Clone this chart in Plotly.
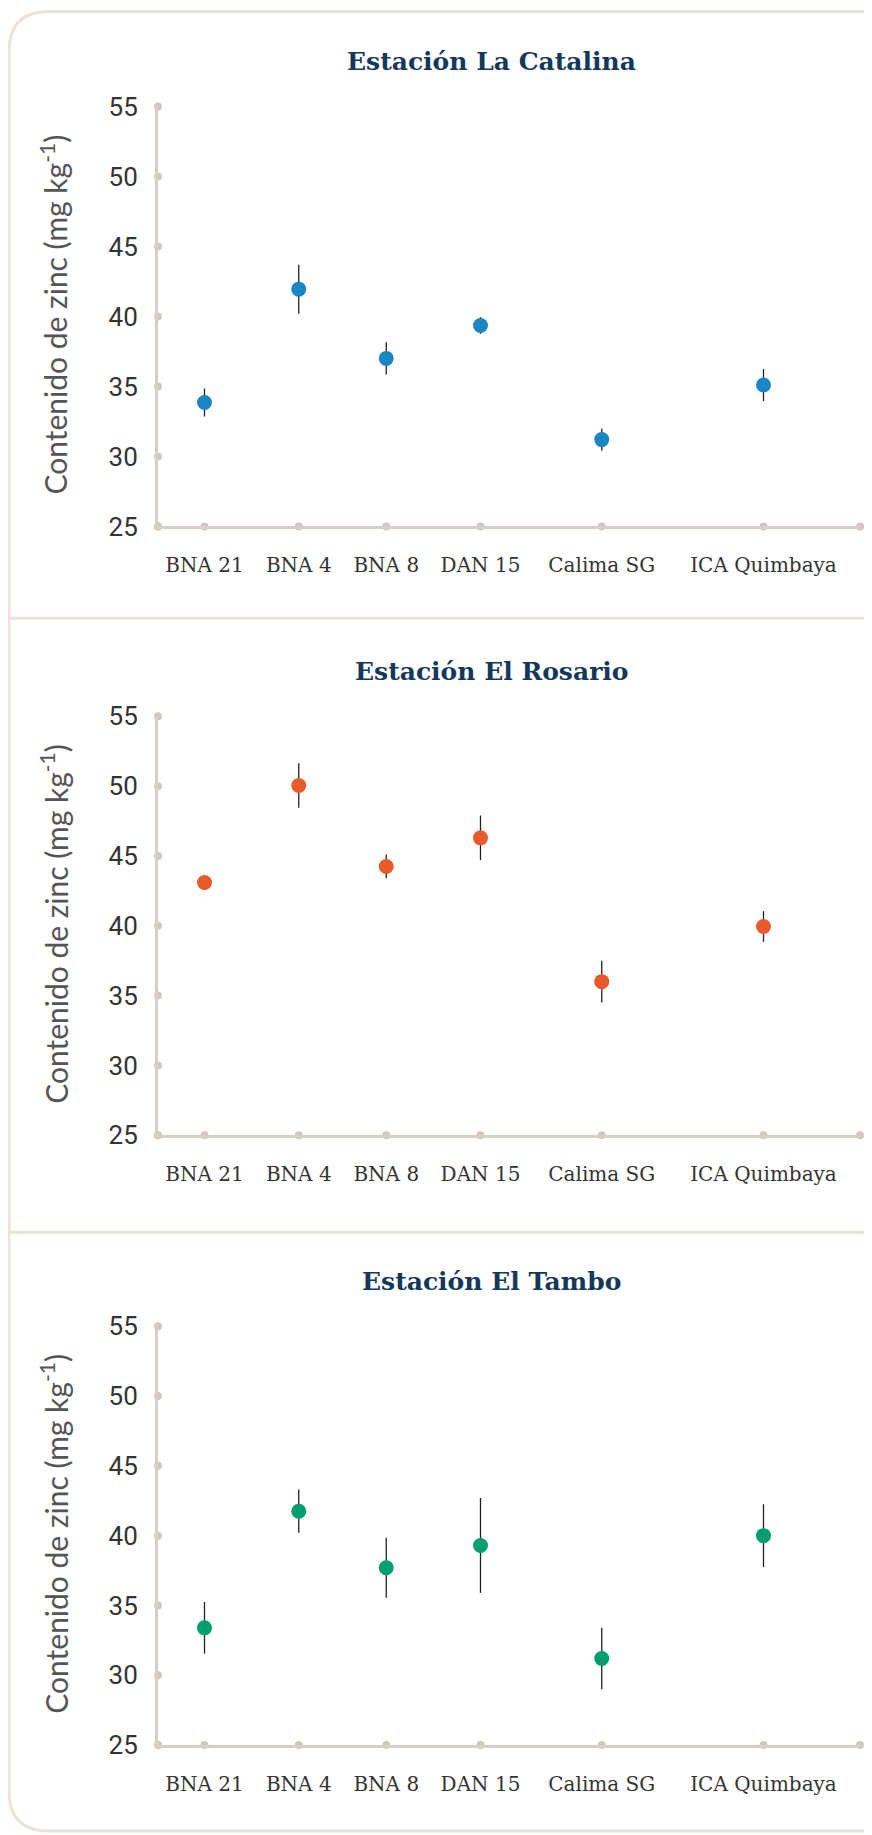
import plotly.graph_objects as go

# ---------------- data ----------------
categories = ["BNA 21", "BNA 4", "BNA 8", "DAN 15", "Calima SG", "ICA Quimbaya"]

station_titles = ["Estación La Catalina", "Estación El Rosario", "Estación El Tambo"]

catalina = [33.85, 41.95, 37.0, 39.35, 31.2, 35.1]
catalina_err = [1.0, 1.75, 1.15, 0.6, 0.8, 1.15]

rosario = [43.1, 50.05, 44.25, 46.3, 36.0, 39.95]
rosario_err = [0.3, 1.6, 0.85, 1.6, 1.5, 1.1]

tambo = [33.4, 41.75, 37.7, 39.3, 31.2, 40.0]
tambo_err = [1.85, 1.55, 2.15, 3.4, 2.2, 2.25]

y_ticks = [25, 30, 35, 40, 45, 50, 55]

# ---------------- layout helpers ----------------
# page offset / scale between figure pixels and the photographed page
OX, OY, SY = 8, 22.5, 0.984
FW, FH = 856, 1850
colors = ["#1a87c4", "#e85a2a", "#00a06e"]
axis_col = "#d6cfc6"
dot_col = "#d0c8bf"
border_col = "#ebe3d8"

# category centres laid out by label length (labels packed with equal gaps)
char_w, gap, start = 13.5, 20.0, 6.0
x_pos = []
cur = start
for c in categories:
    w = char_w * len(c)
    x_pos.append(cur + w / 2)
    cur += w + gap
x_span = 702

# plot areas in target pixels (top, bottom)
panels = [(106, 526), (716, 1135), (1326, 1745)]
x_left, x_right = 158, 860


def px_x(p):
    return (p - OX) / FW


def px_y(p):
    return 1 - ((p - OY) / SY) / FH


fig = go.Figure()

series = [(catalina, catalina_err), (rosario, rosario_err), (tambo, tambo_err)]
annotations = []
for i, ((vals, errs), (top, bot)) in enumerate(zip(series, panels)):
    xa = "x" if i == 0 else f"x{i+1}"
    ya = "y" if i == 0 else f"y{i+1}"
    # decorative tick dots on axes
    fig.add_trace(go.Scatter(
        x=[0] + x_pos + [x_span] + [0] * len(y_ticks),
        y=[y_ticks[0]] * (len(x_pos) + 2) + y_ticks,
        mode="markers", marker=dict(color=dot_col, size=8),
        xaxis=xa, yaxis=ya, cliponaxis=False, showlegend=False, hoverinfo="skip"))
    fig.add_trace(go.Scatter(
        x=x_pos, y=vals, mode="markers",
        marker=dict(color=colors[i], size=15),
        error_y=dict(type="data", array=errs, visible=True, color="#222222",
                     thickness=1.3, width=0),
        xaxis=xa, yaxis=ya, cliponaxis=False, showlegend=False,
        text=categories, hovertemplate="%{text}: %{y}<extra></extra>"))

    dom_y = [px_y(bot), px_y(top)]
    xkey = "xaxis" if i == 0 else f"xaxis{i+1}"
    ykey = "yaxis" if i == 0 else f"yaxis{i+1}"
    fig.update_layout(**{
        xkey: dict(domain=[px_x(x_left), px_x(x_right)], range=[0, x_span],
                   anchor=ya, showgrid=False, zeroline=False, showline=True,
                   linecolor=axis_col, linewidth=3, tickvals=x_pos,
                   ticktext=categories, ticks="", ticklabelstandoff=19,
                   tickfont=dict(family="DejaVu Serif", size=20, color="#333333"),
                   fixedrange=True),
        ykey: dict(domain=dom_y, range=[25, 55], anchor=xa, showgrid=False,
                   zeroline=False, showline=True, linecolor=axis_col, linewidth=3,
                   tickvals=y_ticks, ticks="", ticklabelstandoff=12,
                   tickfont=dict(family="Roboto", size=26, color="#333333"),
                   fixedrange=True),
    })
    annotations.append(dict(
        text=f"<b>{station_titles[i]}</b>", x=px_x(491), y=px_y(top - 45),
        xref="paper", yref="paper", showarrow=False, xanchor="center", yanchor="middle",
        font=dict(family="DejaVu Serif", size=25, color="#14385c")))
    annotations.append(dict(
        text="Contenido de zinc (mg kg<sup>-1</sup>)", x=px_x(54), y=px_y((top + bot) / 2 - 2),
        xref="paper", yref="paper", showarrow=False, textangle=-90,
        xanchor="center", yanchor="middle",
        font=dict(family="Lato", size=30, color="#555555")))

# panel frame: rounded rectangle open to the right, plus dividers
L, T, B, R, r = 9, 11, 1831, 900, 40
path = (f"M {px_x(R)} {px_y(T)} L {px_x(L + r)} {px_y(T)} "
        f"Q {px_x(L)} {px_y(T)} {px_x(L)} {px_y(T + r)} "
        f"L {px_x(L)} {px_y(B - r)} "
        f"Q {px_x(L)} {px_y(B)} {px_x(L + r)} {px_y(B)} "
        f"L {px_x(R)} {px_y(B)}")
shapes = [dict(type="path", path=path, xref="paper", yref="paper",
               line=dict(color=border_col, width=3), layer="below")]
for yd in [618, 1232]:
    shapes.append(dict(type="line", x0=px_x(L), x1=px_x(R), y0=px_y(yd), y1=px_y(yd),
                       xref="paper", yref="paper", line=dict(color=border_col, width=3),
                       layer="below"))

fig.update_layout(width=FW, height=FH, margin=dict(l=0, r=0, t=0, b=0),
                  paper_bgcolor="white", plot_bgcolor="white",
                  annotations=annotations, shapes=shapes, showlegend=False)

fig.write_html("out.html")
